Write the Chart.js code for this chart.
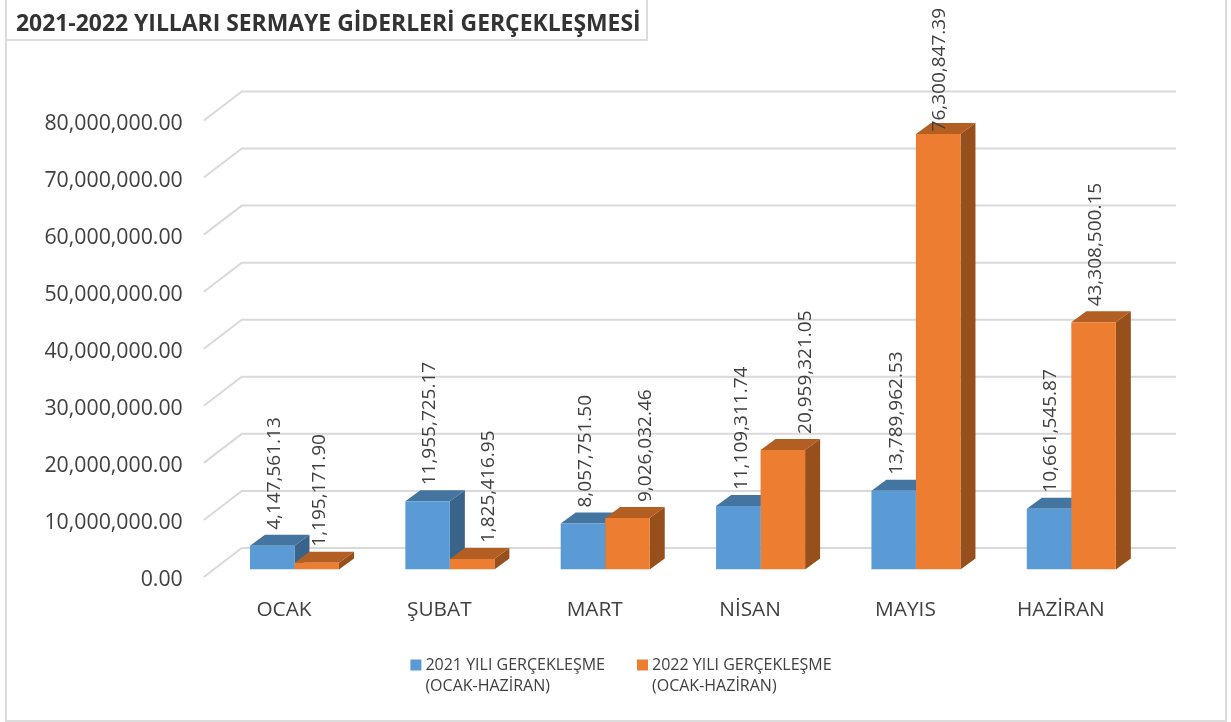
<!DOCTYPE html>
<html>
<head>
<meta charset="utf-8">
<title>2021-2022 Sermaye Giderleri</title>
<script src="https://cdn.jsdelivr.net/npm/chart.js@4"></script>
<style>
  html, body { margin: 0; padding: 0; background: #fff; }
  #wrap { width: 1231px; height: 722px; }
</style>
</head>
<body>
<div id="wrap"><canvas id="myChart" width="1231" height="722"></canvas></div>
<script>
const months = ['OCAK', 'ŞUBAT', 'MART', 'NİSAN', 'MAYIS', 'HAZİRAN'];
const values2021 = [4147561.13, 11955725.17, 8057751.50, 11109311.74, 13789962.53, 10661545.87];
const values2022 = [1195171.90, 1825416.95, 9026032.46, 20959321.05, 76300847.39, 43308500.15];
const label2021 = '2021 YILI GERÇEKLEŞME';
const label2022 = '2022 YILI GERÇEKLEŞME';
const legendSecondLine = '(OCAK-HAZİRAN)';
const chartTitle = '2021-2022 YILLARI SERMAYE GİDERLERİ GERÇEKLEŞMESİ';

const fontName = "'Open Sans', sans-serif";
const textColor = '#404040';
const gridColor = '#d9d9d9';
const frameColor = '#dcdcdc';

// depth of the bars and of the floor/wall behind them
const barDepth = { x: 15, y: 11 };
const wallBack = { x: 25, y: 21.5 };
const wallFront = { x: 13, y: 7.5 };

// the value labels were moved by hand in the original, sideways shift per bar
const labelNudge = [
    [2, 2, 3, 3, 3, 2],
    [3, 16, 18, 23, 1, 2]
];

const legendFont = 16;
const legendPadding = 36;
const legendTextTop = 657;
const legendMark = 3; // small box + thick stroke, brings the text closer to the square

const shades = [
    { front: '#5b9bd5', top: '#4474a0', side: '#3a6389' },
    { front: '#ed7d31', top: '#b35e22', side: '#974f1c' }
];

function money(v) {
    return v.toLocaleString('en-US', { minimumFractionDigits: 2, maximumFractionDigits: 2 });
}

function poly(ctx, pts, color) {
    ctx.fillStyle = color;
    ctx.beginPath();
    pts.forEach((p, i) => { if (i) ctx.lineTo(p[0], p[1]); else ctx.moveTo(p[0], p[1]); });
    ctx.closePath();
    ctx.fill();
}

const framePlugin = {
    id: 'frame',
    beforeDraw(chart) {
        const ctx = chart.ctx;
        ctx.save();
        ctx.fillStyle = '#fff';
        ctx.fillRect(0, 0, chart.width, chart.height);
        ctx.strokeStyle = frameColor;
        ctx.lineWidth = 2;
        ctx.strokeRect(6, -2, 1220, 723);
        ctx.strokeRect(6, -2, 641, 42);
        ctx.restore();
    }
};

// gridlines + the fake 3d sides, everything comes from the scales / bar elements
const depthPlugin = {
    id: 'depth',
    beforeDatasetsDraw(chart) {
        const ctx = chart.ctx;
        const yScale = chart.scales.y;
        const area = chart.chartArea;
        ctx.save();
        ctx.strokeStyle = gridColor;
        ctx.lineWidth = 2;
        yScale.ticks.forEach(t => {
            const y = yScale.getPixelForValue(t.value);
            ctx.beginPath();
            ctx.moveTo(area.left - wallFront.x, y + wallFront.y);
            ctx.lineTo(area.left + wallBack.x, y - wallBack.y);
            ctx.lineTo(area.right + wallBack.x + 2, y - wallBack.y);
            ctx.stroke();
        });
        [0, 1].forEach(d => {
            chart.getDatasetMeta(d).data.forEach(bar => {
                const p = bar.getProps(['x', 'y', 'base', 'width']);
                const l = p.x - p.width / 2, r = p.x + p.width / 2;
                const dx = barDepth.x, dy = barDepth.y;
                poly(ctx, [[r, p.y], [r + dx, p.y - dy], [r + dx, p.base - dy], [r, p.base]], shades[d].side);
                poly(ctx, [[l, p.y], [l + dx, p.y - dy], [r + dx, p.y - dy], [r, p.y]], shades[d].top);
            });
        });
        ctx.restore();
    }
};

const valueLabels = {
    id: 'valueLabels',
    afterDatasetsDraw(chart) {
        const ctx = chart.ctx;
        ctx.save();
        ctx.font = '19px ' + fontName;
        ctx.fillStyle = textColor;
        ctx.textAlign = 'left';
        ctx.textBaseline = 'middle';
        chart.data.datasets.forEach((ds, d) => {
            chart.getDatasetMeta(d).data.forEach((bar, i) => {
                const txt = money(ds.data[i]);
                const w = ctx.measureText(txt).width;
                let start = bar.y - 16;
                if (start - w < 8) start = 8 + w; // keep it inside the picture
                ctx.save();
                ctx.translate(bar.x + labelNudge[d][i], start);
                ctx.rotate(-Math.PI / 2);
                ctx.fillText(txt, 0, 0);
                ctx.restore();
            });
        });
        ctx.restore();
    }
};

// legend only does one line here, so put it where we want and add the 2nd line under it
const legendLines = {
    id: 'legendLines',
    afterLayout(chart) {
        const lg = chart.legend;
        lg.top = legendTextTop - legendPadding;
        lg.bottom = chart.height;
        lg.height = lg.bottom - lg.top;
    },
    afterDraw(chart) {
        const ctx = chart.ctx;
        const lg = chart.legend;
        ctx.save();
        ctx.font = legendFont + 'px ' + fontName;
        ctx.fillStyle = textColor;
        ctx.textAlign = 'left';
        ctx.textBaseline = 'middle';
        lg.legendItems.forEach((item, i) => {
            const hb = lg.legendHitBoxes[i];
            ctx.fillText(legendSecondLine, hb.left + legendMark + legendFont / 2, legendTextTop + 29);
        });
        ctx.restore();
    }
};

new Chart(document.getElementById('myChart').getContext('2d'), {
    type: 'bar',
    plugins: [framePlugin, depthPlugin, valueLabels, legendLines],
    data: {
        labels: months,
        datasets: [
            { label: label2021, data: values2021, backgroundColor: shades[0].front },
            { label: label2022, data: values2022, backgroundColor: shades[1].front }
        ]
    },
    options: {
        responsive: false,
        animation: false,
        layout: { padding: { left: 16, right: 1, top: 0, bottom: 12 } },
        datasets: { bar: { categoryPercentage: 0.573, barPercentage: 1 } },
        scales: {
            x: {
                grid: { display: false },
                border: { display: false },
                ticks: { color: textColor, font: { family: fontName, size: 20.8 }, labelOffset: -10.5, padding: 20.5, maxRotation: 0 },
                afterFit(s) { s.height = 78.5; }
            },
            y: {
                min: 0,
                max: 80000000,
                grid: { display: false },
                border: { display: false },
                ticks: { color: textColor, font: { family: fontName, size: 21.3 }, stepSize: 10000000, padding: 26, labelOffset: 10.5, callback: v => money(v) },
                afterFit(s) { s.width = 200.8; }
            },
            // only keeps the plot away from the right side, legend stays centred on the frame
            yRight: {
                position: 'right',
                display: true,
                grid: { display: false },
                border: { display: false },
                ticks: { display: false },
                afterFit(s) { s.width = 81; }
            }
        },
        plugins: {
            title: {
                display: true,
                text: chartTitle,
                align: 'start',
                color: '#333333',
                font: { family: fontName, size: 22.9, weight: 'bold' },
                padding: { top: 11, bottom: 74.5 }
            },
            legend: {
                position: 'bottom',
                labels: {
                    boxWidth: legendMark,
                    boxHeight: legendMark,
                    color: textColor,
                    font: { family: fontName, size: legendFont },
                    padding: legendPadding,
                    generateLabels(chart) {
                        return Chart.defaults.plugins.legend.labels.generateLabels(chart).map(item => {
                            item.lineWidth = 8;
                            item.strokeStyle = item.fillStyle;
                            return item;
                        });
                    }
                }
            },
            tooltip: { enabled: false }
        }
    }
});
</script>
</body>
</html>
